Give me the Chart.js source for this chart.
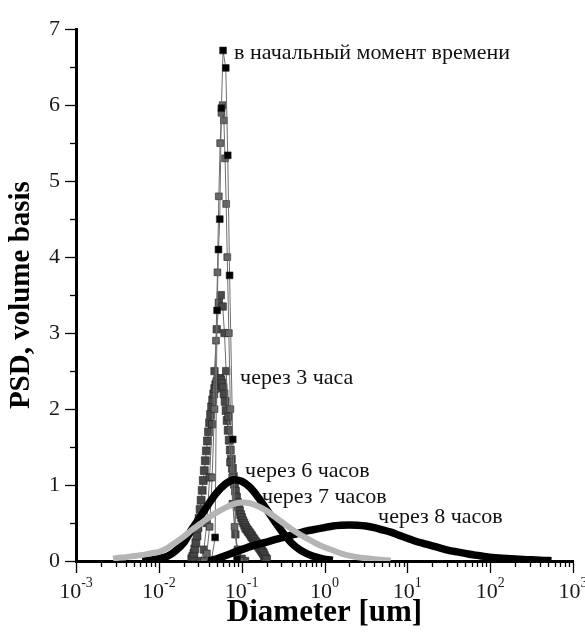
<!DOCTYPE html>
<html><head><meta charset="utf-8">
<script src="https://cdn.jsdelivr.net/npm/chart.js@4/dist/chart.umd.min.js"></script>
<style>html,body{margin:0;padding:0;background:#fff}#wrap{width:585px;height:633px}</style>
</head><body><div id="wrap"><canvas id="c" width="585" height="633"></canvas></div>
<script>
// ---- tick labels ----
const xTickValues = [0.001, 0.01, 0.1, 1, 10, 100, 1000];
const xTickExponents = ['-3', '-2', '-1', '0', '1', '2', '3'];
const yTickValues = [0, 1, 2, 3, 4, 5, 6, 7];

// ---- curve labels (text, anchor diameter, anchor PSD) ----
const curveLabels = ['в начальный момент времени', 'через 3 часа', 'через 6 часов', 'через 7 часов', 'через 8 часов'];
const labelDiam = [0.081, 0.0957, 0.110, 0.176, 4.44];
const labelPsd = [6.61, 2.33, 1.105, 0.767, 0.494];

// ---- series: initial moment ----
const diamInitial = [0.043, 0.0478, 0.0505, 0.0525, 0.0544, 0.0569, 0.0596, 0.0643, 0.0679, 0.0715, 0.078, 0.088];
const psdInitial  = [0.0, 0.31, 3.3, 4.1, 4.5, 5.96, 6.72, 6.49, 5.34, 3.76, 1.6, 0.02];

// ---- intermediate series (unlabelled) ----
const diamMid1 = [0.035, 0.038, 0.041, 0.044, 0.047, 0.049, 0.051, 0.053, 0.055, 0.057, 0.059, 0.061, 0.063, 0.065, 0.067, 0.07, 0.073, 0.077, 0.082, 0.088, 0.095];
const psdMid1  = [0.0, 0.1, 0.45, 1.1, 2.0, 2.9, 3.8, 4.8, 5.5, 5.9, 6.0, 5.8, 5.3, 4.7, 4.0, 3.0, 2.0, 1.1, 0.45, 0.12, 0.0];
const diamMid2 = [0.032, 0.035, 0.038, 0.041, 0.044, 0.047, 0.05, 0.053, 0.056, 0.059, 0.062, 0.065, 0.069, 0.073, 0.078, 0.084, 0.09, 0.1, 0.11];
const psdMid2  = [0.0, 0.15, 0.5, 1.1, 1.8, 2.5, 3.05, 3.4, 3.5, 3.35, 3.0, 2.5, 1.9, 1.3, 0.75, 0.35, 0.15, 0.03, 0.0];

// ---- через 3 часа ----
const diam3h = [0.025, 0.0257, 0.0265, 0.0272, 0.028, 0.0289, 0.0297, 0.0306, 0.0315, 0.0324, 0.0334, 0.0344, 0.0354, 0.0364, 0.0375, 0.0386, 0.0398, 0.041, 0.0422, 0.0434, 0.0447, 0.046, 0.0473, 0.0487, 0.0501, 0.0516, 0.0531, 0.0546, 0.0562, 0.0579, 0.0596, 0.0613, 0.0631, 0.0649, 0.0668, 0.0688, 0.0708, 0.0729, 0.075, 0.0772, 0.0794, 0.0818, 0.0841, 0.0866, 0.0891, 0.0917, 0.0944, 0.0972, 0.1, 0.103, 0.106, 0.109, 0.112, 0.115, 0.119, 0.122, 0.126, 0.13, 0.133, 0.137, 0.141, 0.145, 0.15, 0.154, 0.158, 0.163, 0.168, 0.173, 0.178, 0.183, 0.188, 0.194, 0.2];
const psd3h  = [0.03, 0.06, 0.1, 0.16, 0.24, 0.33, 0.44, 0.56, 0.68, 0.8, 0.93, 1.06, 1.19, 1.32, 1.45, 1.58, 1.7, 1.82, 1.93, 2.03, 2.12, 2.2, 2.27, 2.32, 2.36, 2.39, 2.4, 2.4, 2.38, 2.34, 2.28, 2.2, 2.1, 1.98, 1.85, 1.72, 1.59, 1.46, 1.34, 1.22, 1.11, 1.01, 0.92, 0.84, 0.77, 0.71, 0.66, 0.61, 0.57, 0.53, 0.5, 0.47, 0.44, 0.42, 0.4, 0.38, 0.36, 0.34, 0.32, 0.3, 0.28, 0.26, 0.24, 0.22, 0.2, 0.18, 0.16, 0.14, 0.12, 0.1, 0.07, 0.04, 0.02];

// ---- через 6 часов ----
const diam6h = [0.0063, 0.0079, 0.01, 0.0126, 0.0158, 0.02, 0.0251, 0.0316, 0.0398, 0.0501, 0.0631, 0.0794, 0.1, 0.126, 0.158, 0.2, 0.251, 0.316, 0.398, 0.501, 0.631, 0.794, 1.0, 1.26];
const psd6h  = [0.0, 0.01, 0.03, 0.06, 0.13, 0.24, 0.42, 0.58, 0.75, 0.9, 1.01, 1.07, 1.05, 0.97, 0.84, 0.68, 0.52, 0.37, 0.24, 0.15, 0.09, 0.05, 0.025, 0.01];

// ---- через 7 часов ----
const diam7h = [0.0028, 0.00316, 0.004, 0.005, 0.0063, 0.0079, 0.01, 0.0126, 0.0158, 0.02, 0.0251, 0.0316, 0.0398, 0.0501, 0.0631, 0.0794, 0.1, 0.126, 0.158, 0.2, 0.251, 0.316, 0.398, 0.501, 0.631, 0.794, 1.0, 1.26, 1.58, 2.0, 2.51, 3.16, 3.98, 5.01, 6.31];
const psd7h  = [0.03, 0.04, 0.05, 0.065, 0.08, 0.1, 0.12, 0.17, 0.24, 0.32, 0.41, 0.49, 0.57, 0.64, 0.70, 0.75, 0.77, 0.76, 0.72, 0.66, 0.58, 0.50, 0.42, 0.35, 0.29, 0.23, 0.18, 0.14, 0.10, 0.07, 0.05, 0.035, 0.022, 0.013, 0.006];

// ---- через 8 часов ----
const diam8h = [0.0398, 0.0501, 0.0631, 0.0794, 0.1, 0.126, 0.158, 0.2, 0.251, 0.316, 0.398, 0.501, 0.631, 0.794, 1.0, 1.26, 1.58, 2.0, 2.51, 3.16, 3.98, 5.01, 6.31, 7.94, 10, 12.6, 15.8, 20, 25.1, 31.6, 39.8, 50.1, 63.1, 79.4, 100, 126, 158, 200, 251, 316, 398, 501, 550];
const psd8h  = [0.0, 0.03, 0.07, 0.11, 0.15, 0.19, 0.22, 0.25, 0.28, 0.31, 0.34, 0.37, 0.40, 0.42, 0.44, 0.46, 0.47, 0.475, 0.47, 0.46, 0.44, 0.41, 0.38, 0.34, 0.30, 0.26, 0.23, 0.20, 0.17, 0.14, 0.12, 0.10, 0.08, 0.065, 0.05, 0.04, 0.032, 0.025, 0.02, 0.015, 0.01, 0.006, 0.004];

const pairs = (xs, ys) => xs.map((x, i) => ({x: x, y: ys[i]}));
const SERIF = '"Liberation Serif", "Times New Roman", serif';

function markerSet(label, xs, ys, color, radius, order) {
  return {label, data: pairs(xs, ys), showLine: true, borderColor: '#6e6e6e', borderWidth: 1,
    pointStyle: 'rect', pointRadius: radius, pointBackgroundColor: color, pointBorderColor: '#222', pointBorderWidth: 0.6, order};
}
function thickSet(label, xs, ys, color, width, order) {
  return {label, data: pairs(xs, ys), showLine: true, borderColor: color, borderWidth: width,
    pointRadius: 0, tension: 0.2, borderCapStyle: 'butt', borderJoinStyle: 'round', order};
}

const axisDecor = {
  id: 'axisDecor',
  afterDraw(chart) {
    const ctx = chart.ctx, xs = chart.scales.x, ys = chart.scales.y, ca = chart.chartArea;
    ctx.save();
    ctx.strokeStyle = '#000';
    ctx.lineWidth = 1.3;
    const line = (x1, y1, x2, y2) => { ctx.beginPath(); ctx.moveTo(x1, y1); ctx.lineTo(x2, y2); ctx.stroke(); };
    xTickValues.forEach((v, i) => {
      const px = Math.round(xs.getPixelForValue(v)) + 0.5;
      line(px, ca.bottom, px, ca.bottom + 12);
      if (i < xTickValues.length - 1) {
        for (let m = 2; m <= 9; m++) {
          const p = Math.round(xs.getPixelForValue(v * m)) + 0.5;
          line(p, ca.bottom, p, ca.bottom + 6);
        }
      }
    });
    yTickValues.forEach((v, i) => {
      const py = Math.round(ys.getPixelForValue(v)) + 0.5;
      line(ca.left - 11, py, ca.left, py);
      if (i < yTickValues.length - 1) {
        const pm = Math.round(ys.getPixelForValue(v + 0.5)) + 0.5;
        line(ca.left - 6, pm, ca.left, pm);
      }
    });
    // x tick labels: 10 with superscript exponent
    ctx.fillStyle = '#1a1a1a';
    ctx.textBaseline = 'alphabetic';
    ctx.textAlign = 'left';
    xTickValues.forEach((v, i) => {
      const px = xs.getPixelForValue(v);
      ctx.font = '22px ' + SERIF;
      const w1 = ctx.measureText('10').width;
      ctx.font = '14px ' + SERIF;
      const w2 = ctx.measureText(xTickExponents[i]).width;
      const start = px - (w1 + w2) / 2;
      ctx.font = '22px ' + SERIF;
      ctx.fillText('10', start, 598);
      ctx.font = '14px ' + SERIF;
      ctx.fillText(xTickExponents[i], start + w1, 587);
    });
    // curve labels
    ctx.fillStyle = '#111';
    ctx.font = '22px ' + SERIF;
    curveLabels.forEach((t, i) => {
      ctx.fillText(t, xs.getPixelForValue(labelDiam[i]), ys.getPixelForValue(labelPsd[i]));
    });
    ctx.restore();
  }
};

new Chart(document.getElementById('c'), {
  type: 'scatter',
  data: {
    datasets: [
      thickSet('через 7 часов', diam7h, psd7h, '#b5b5b5', 6, 0),
      thickSet('через 6 часов', diam6h, psd6h, '#000', 7.5, 1),
      thickSet('через 8 часов', diam8h, psd8h, '#000', 7.5, 2),
      markerSet('в начальный момент времени', diamInitial, psdInitial, '#000', 4.8, 3),
      markerSet('промежуточная 1', diamMid1, psdMid1, '#666', 4.8, 4),
      markerSet('промежуточная 2', diamMid2, psdMid2, '#4a4a4a', 5.2, 5),
      markerSet('через 3 часа', diam3h, psd3h, '#474747', 5.6, 6)
    ]
  },
  options: {
    responsive: false,
    devicePixelRatio: 1,
    animation: false,
    layout: {padding: {top: 23, right: 12, left: 0, bottom: 0}},
    plugins: {legend: {display: false}, tooltip: {enabled: false}},
    scales: {
      x: {
        type: 'logarithmic', position: 'bottom', min: 0.001, max: 1000,
        grid: {display: false, drawTicks: false},
        ticks: {display: false},
        border: {display: true, color: '#000', width: 3},
        title: {display: true, text: 'Diameter [um]', color: '#000',
          font: {family: SERIF, size: 31, weight: 'bold'}, padding: {top: 0, bottom: 1}},
        afterFit: s => { s.height = 72; }
      },
      y: {
        min: 0, max: 7,
        grid: {display: false, drawTicks: false},
        ticks: {stepSize: 1, color: '#1a1a1a', padding: 16, font: {family: SERIF, size: 22}},
        border: {display: true, color: '#000', width: 3},
        title: {display: true, text: 'PSD, volume basis', color: '#000',
          font: {family: SERIF, size: 29, weight: 'bold'}, padding: {top: 4, bottom: 0}},
        afterFit: s => { s.width = 76; }
      }
    }
  },
  plugins: [axisDecor]
});
</script>
</body></html>
